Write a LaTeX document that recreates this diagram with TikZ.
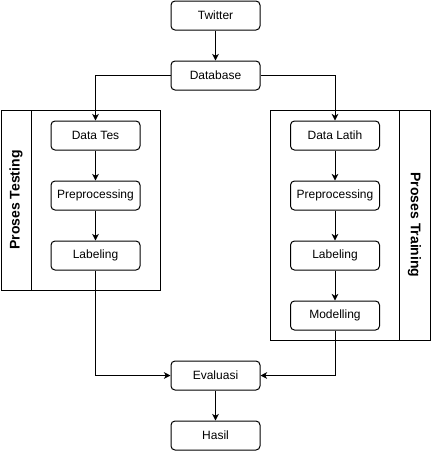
\documentclass[tikz,border=0pt]{standalone}
\usepackage{fontspec}
\setmainfont{Liberation Sans}
\usetikzlibrary{arrows.meta}
\begin{document}
\begin{tikzpicture}[x=0.75pt,y=-0.75pt,
  box/.style={draw,rounded corners=3pt,line width=0.75pt,minimum width=66.75pt,minimum height=21.75pt,inner sep=0pt,font=\fontsize{9}{11}\selectfont},
  lane/.style={draw,line width=0.75pt,inner sep=0pt},
  lanetitle/.style={font=\fontsize{10.5}{12}\selectfont\bfseries,inner sep=0pt},
  arr/.style={line width=0.75pt,-{Stealth[length=5pt,width=5pt,inset=1.5pt]}}]
\useasboundingbox (0,0) rectangle (431,451);
% containers
\node[lane,minimum width=119.25pt,minimum height=135pt] (testlane) at (80.5,200) {};
\node[lane,minimum width=120pt,minimum height=172.5pt] (trainlane) at (350,225) {};
\coordinate (td1) at (31,110); \coordinate (td2) at (31,290);
\coordinate (rd1) at (399,110); \coordinate (rd2) at (399,340);
\draw[line width=0.75pt] (td1) -- (td2);
\draw[line width=0.75pt] (rd1) -- (rd2);
\node[lanetitle,rotate=90] (testtitle) at (16,200) {Proses Testing};
\node[lanetitle,rotate=-90] (traintitle) at (414.5,225) {Proses Training};
% boxes
\node[box] (twitter) at (215.5,15.5) {Twitter};
\node[box] (db) at (215.5,75.5) {Database};
\node[box] (dtes) at (95.5,135.5) {Data Tes};
\node[box] (prel) at (95.5,195.5) {Preprocessing};
\node[box] (labl) at (95.5,255.5) {Labeling};
\node[box] (dlat) at (335,135.5) {Data Latih};
\node[box] (prer) at (335,195.5) {Preprocessing};
\node[box] (labr) at (335,255.5) {Labeling};
\node[box] (mod) at (335,315.5) {Modelling};
\node[box] (eval) at (215.5,375.5) {Evaluasi};
\node[box] (hasil) at (215.5,435.5) {Hasil};
% connectors
\draw[arr] (twitter) -- (db);
\draw[arr] (db.west) -| (dtes.north);
\draw[arr] (db.east) -| (dlat.north);
\draw[arr] (dtes) -- (prel);
\draw[arr] (prel) -- (labl);
\draw[arr] (dlat) -- (prer);
\draw[arr] (prer) -- (labr);
\draw[arr] (labr) -- (mod);
\draw[arr] (labl.south) |- (eval.west);
\draw[arr] (mod.south) |- (eval.east);
\draw[arr] (eval) -- (hasil);
\end{tikzpicture}
\end{document}
